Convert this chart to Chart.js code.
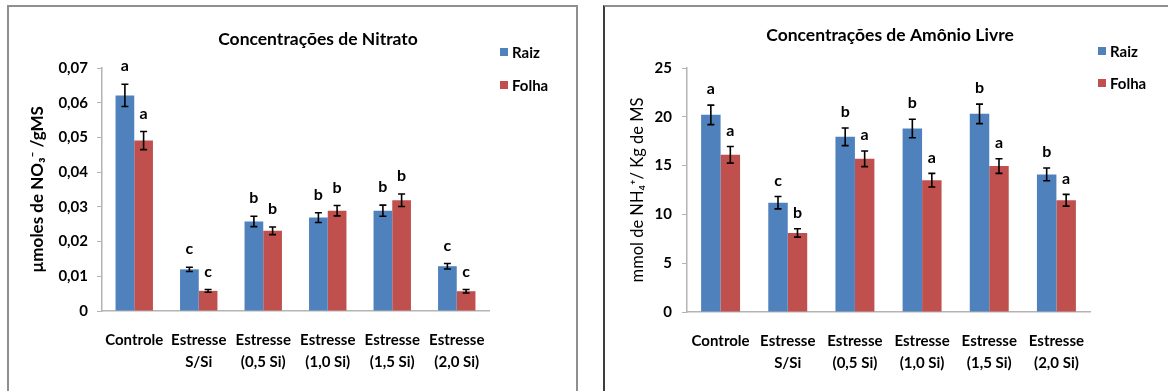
<!DOCTYPE html>
<html>
<head>
<meta charset="utf-8">
<script src="https://cdn.jsdelivr.net/npm/chart.js@4"></script>
<style>
  html, body { margin: 0; padding: 0; background: #fff; overflow: hidden; }
  body { width: 1168px; height: 391px; position: relative; }
  canvas { position: absolute; top: 0; }
  #boxLeft { position: absolute; left: 7px; top: 5px; width: 567px; height: 420px; border: 2px solid #8f8f8f; }
  #boxRight { position: absolute; left: 603px; top: 5px; width: 600px; height: 420px;
              border-top: 2px solid #8f8f8f; border-left: 2px solid #3c3c3c; }
</style>
</head>
<body>
<div id="boxLeft"></div>
<div id="boxRight"></div>
<canvas id="nitrato" width="590" height="391" style="left:0"></canvas>
<canvas id="amonio" width="578" height="391" style="left:590px"></canvas>
<script>
const FONT = "Lato, 'Open Sans', sans-serif";
const BLUE = "#4F81BD";
const RED = "#C0504D";
const AXIS = "#b4b4b4";

const categories = [
  ["Controle"],
  ["Estresse", "S/Si"],
  ["Estresse", "(0,5 Si)"],
  ["Estresse", "(1,0 Si)"],
  ["Estresse", "(1,5 Si)"],
  ["Estresse", "(2,0 Si)"],
];
const seriesNames = ["Raiz", "Folha"];

// Concentrações de Nitrato
const nitratoRaiz = [0.0621, 0.0120, 0.0258, 0.0269, 0.0289, 0.0129];
const nitratoFolha = [0.0491, 0.0058, 0.0231, 0.0289, 0.0319, 0.0057];
const nitratoRaizErr = [0.0032, 0.0006, 0.0015, 0.0014, 0.0016, 0.0008];
const nitratoFolhaErr = [0.0026, 0.0004, 0.0011, 0.0015, 0.0018, 0.0005];
const nitratoRaizLetras = ["a", "c", "b", "b", "b", "c"];
const nitratoFolhaLetras = ["a", "c", "b", "b", "b", "c"];
const nitratoTicks = ["0", "0,01", "0,02", "0,03", "0,04", "0,05", "0,06", "0,07"];

// Concentrações de Amônio Livre
const amonioRaiz = [20.2, 11.2, 17.95, 18.8, 20.3, 14.1];
const amonioFolha = [16.1, 8.1, 15.7, 13.5, 14.95, 11.45];
const amonioRaizErr = [1.0, 0.63, 0.9, 0.95, 1.0, 0.65];
const amonioFolhaErr = [0.85, 0.43, 0.8, 0.7, 0.75, 0.6];
const amonioRaizLetras = ["a", "c", "b", "b", "b", "b"];
const amonioFolhaLetras = ["a", "b", "a", "a", "a", "a"];
const amonioTicks = ["0", "5", "10", "15", "20", "25"];

// error bars + significance letters, title and legend drawn on top
const decorPlugin = {
  id: "decor",
  afterDatasetsDraw(chart, args, opts) {
    const { ctx } = chart;
    const y = chart.scales.y;
    ctx.save();
    chart.data.datasets.forEach((ds, i) => {
      chart.getDatasetMeta(i).data.forEach((bar, j) => {
        const top = y.getPixelForValue(ds.data[j] + ds.errors[j]);
        const bot = y.getPixelForValue(ds.data[j] - ds.errors[j]);
        ctx.strokeStyle = "#000";
        ctx.lineWidth = 1.6;
        ctx.beginPath();
        ctx.moveTo(bar.x, top); ctx.lineTo(bar.x, bot);
        ctx.moveTo(bar.x - 3.5, top); ctx.lineTo(bar.x + 3.5, top);
        ctx.moveTo(bar.x - 3.5, bot); ctx.lineTo(bar.x + 3.5, bot);
        ctx.stroke();
        ctx.fillStyle = "#000";
        ctx.font = "bold 16px " + FONT;
        ctx.textAlign = "center";
        ctx.textBaseline = "middle";
        ctx.fillText(ds.letters[j], bar.x, top - opts.letterGap);
      });
    });
    // title
    ctx.font = "bold 17.5px " + FONT;
    ctx.textAlign = "center";
    ctx.textBaseline = "middle";
    ctx.fillText(opts.title, opts.titleX, opts.titleY);
    // legend
    ctx.font = "bold 15px " + FONT;
    ctx.textAlign = "left";
    chart.data.datasets.forEach((ds, i) => {
      const ly = opts.legendY[i];
      ctx.fillStyle = ds.backgroundColor;
      ctx.fillRect(opts.legendX, ly - 4, 8, 8);
      ctx.fillStyle = "#000";
      ctx.fillText(ds.label, opts.legendX + 12, ly + 1);
    });
    ctx.restore();
  },
};

function buildChart(id, cfg) {
  new Chart(document.getElementById(id), {
    type: "bar",
    data: {
      labels: categories,
      datasets: [
        { label: seriesNames[0], data: cfg.raiz, errors: cfg.raizErr, letters: cfg.raizLetras, backgroundColor: BLUE },
        { label: seriesNames[1], data: cfg.folha, errors: cfg.folhaErr, letters: cfg.folhaLetras, backgroundColor: RED },
      ],
    },
    plugins: [decorPlugin],
    options: {
      responsive: false,
      animation: false,
      devicePixelRatio: 1,
      layout: { padding: { left: 0, right: cfg.padRight, top: 68, bottom: 0 } },
      datasets: { bar: { barPercentage: 1, categoryPercentage: 0.58, borderWidth: 0 } },
      plugins: {
        legend: { display: false },
        tooltip: { enabled: false },
        decor: cfg.decor,
      },
      scales: {
        x: {
          afterFit: (s) => { s.height = cfg.xHeight; },
          grid: { display: true, drawOnChartArea: false, drawTicks: false, color: AXIS },
          border: { color: AXIS, width: 1.5 },
          ticks: {
            color: "#000",
            padding: 18,
            autoSkip: false,
            maxRotation: 0,
            font: { family: FONT, size: 15, weight: "bold", lineHeight: 1.47 },
          },
        },
        y: {
          min: 0,
          max: cfg.max,
          afterFit: (s) => { s.width = cfg.yWidth; },
          grid: { drawOnChartArea: false, tickLength: 5, color: AXIS },
          border: { color: AXIS, width: 1.5 },
          ticks: {
            stepSize: cfg.step,
            color: "#000",
            padding: cfg.tickPad,
            font: { family: FONT, size: 15, weight: "bold" },
            callback: (v, i) => cfg.ticks[i],
          },
          title: {
            display: true,
            text: cfg.yTitle,
            color: "#000",
            padding: { top: cfg.yTitlePad, bottom: 0 },
            font: { family: FONT, size: cfg.yTitleSize, weight: cfg.yTitleWeight },
          },
        },
      },
    },
  });
}

buildChart("nitrato", {
  raiz: nitratoRaiz, folha: nitratoFolha,
  raizErr: nitratoRaizErr, folhaErr: nitratoFolhaErr,
  raizLetras: nitratoRaizLetras, folhaLetras: nitratoFolhaLetras,
  ticks: nitratoTicks, max: 0.07, step: 0.01,
  yTitle: "µmoles de NO₃⁻ /gMS", yTitleWeight: "bold", yTitleSize: 17, yTitlePad: 27,
  yWidth: 102, padRight: 101, xHeight: 80, tickPad: 9,
  decor: { title: "Concentrações de Nitrato", titleX: 318, titleY: 39, legendX: 500, legendY: [52, 85], letterGap: 18 },
});

buildChart("amonio", {
  raiz: amonioRaiz, folha: amonioFolha,
  raizErr: amonioRaizErr, folhaErr: amonioFolhaErr,
  raizLetras: amonioRaizLetras, folhaLetras: amonioFolhaLetras,
  ticks: amonioTicks, max: 25, step: 5,
  yTitle: "mmol de NH₄⁺/ Kg de MS", yTitleWeight: "normal", yTitleSize: 16.5, yTitlePad: 38,
  yWidth: 97, padRight: 78, xHeight: 79, tickPad: 10,
  decor: { title: "Concentrações de Amônio Livre", titleX: 300, titleY: 35, legendX: 508, legendY: [51, 83], letterGap: 16 },
});
</script>
</body>
</html>
